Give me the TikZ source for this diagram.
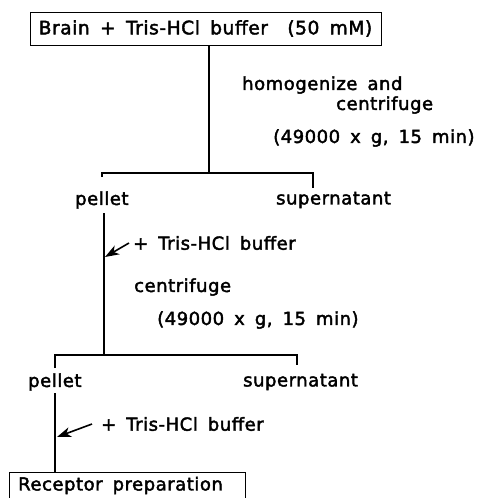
\documentclass[tikz,border=0pt]{standalone}
\usepackage{fontspec}
\setmainfont[LetterSpace=3,FakeBold=2.2,WordSpace=1.6]{DejaVu Sans}
\usetikzlibrary{arrows.meta}
\begin{document}
\begin{tikzpicture}[x=1pt,y=-1pt,
  lbl/.style={anchor=west,inner sep=0pt,font=\fontsize{18}{22}\selectfont},
  boxnode/.style={draw,line width=1pt,inner sep=0pt,font=\fontsize{18.6}{22}\selectfont},
  conn/.style={line width=1.4pt},
  addarrow/.style={line width=1.6pt,-{Stealth[length=14pt,width=10pt,inset=4pt]}}]
\useasboundingbox (0,0) rectangle (478,498);
% top box
\node[boxnode,minimum width=351pt,minimum height=33pt] (top) at (205.5,28.5) {Brain + Tris-HCl buffer\hspace{9pt} (50 mM)};
\coordinate (j1) at (209,173);
\coordinate (l1) at (102,173);
\coordinate (r1) at (313,173);
\node[lbl] (hom) at (242,85) {homogenize and};
\node[lbl] (cen1) at (336,105) {centrifuge};
\node[lbl] (g1) at (273,138) {(49000 x g, 15 min)};
\node[lbl] (p1) at (75,200) {pellet};
\node[lbl] (s1) at (276,200) {supernatant};
\draw[conn] (top.south -| j1) -- (j1);
\draw[conn] (l1 |- 0,177) -- (l1) -- (r1) -- (r1 |- 0,188);
% second stage
\coordinate (v2top) at (104,213);
\coordinate (j2) at (104,355);
\coordinate (l2) at (55,355);
\coordinate (r2) at (297,355);
\node[lbl] (add1) at (133,243) {+ Tris-HCl buffer};
\node[lbl] (cen2) at (134,287) {centrifuge};
\node[lbl] (g2) at (157,320) {(49000 x g, 15 min)};
\draw[conn] (v2top) -- (j2);
\coordinate (a1tip) at (105,257);
\coordinate (a1tail) at (129,243);
\draw[addarrow] (a1tail) -- (a1tip);
\draw[conn] (l2 |- 0,368) -- (l2) -- (r2) -- (r2 |- 0,365);
\node[lbl] (p2) at (28,382) {pellet};
\node[lbl] (s2) at (243,382) {supernatant};
% final
\node[boxnode,minimum width=236pt,minimum height=60pt,anchor=north west] (rec) at (9,472) {};
\node[lbl] (rectext) at (18,485.5) {Receptor preparation};
\coordinate (v3top) at (55,393);
\draw[conn] (v3top) -- (rec.north -| v3top);
\coordinate (a2tip) at (57,437);
\coordinate (a2tail) at (92,424);
\draw[addarrow] (a2tail) -- (a2tip);
\node[lbl] (add2) at (101,424) {+ Tris-HCl buffer};
\end{tikzpicture}
\end{document}
